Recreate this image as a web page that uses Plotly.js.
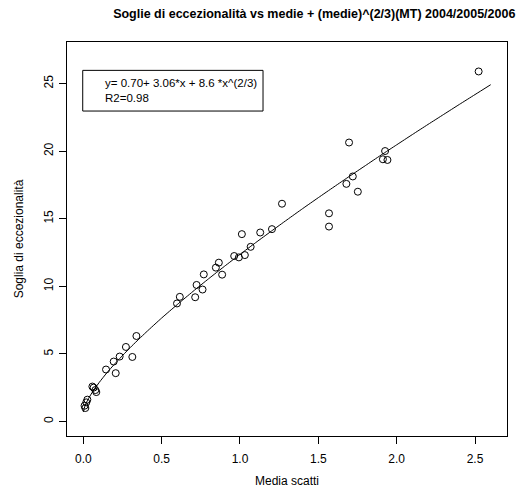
<!DOCTYPE html>
<html>
<head>
<meta charset="utf-8">
<script src="https://cdn.plot.ly/plotly-3.0.1.min.js"></script>
<style>
  html, body { margin: 0; padding: 0; background: #ffffff; }
  #chart { width: 519px; height: 500px; }
</style>
</head>
<body>
<div id="chart"></div>
<script>
// Observed points: mean (Media scatti) vs threshold (Soglia di eccezionalità)
const mediaScatti = [
  2.523, 1.696, 1.926, 1.912, 1.941, 1.720, 1.679, 1.752, 1.268, 1.568,
  1.568, 1.204, 1.129, 1.012, 1.068, 1.031, 0.993, 0.963, 0.865, 0.846,
  0.886, 0.769, 0.723, 0.761, 0.714, 0.616, 0.598, 0.339, 0.272, 0.232,
  0.313, 0.194, 0.145, 0.207, 0.058, 0.066, 0.077, 0.083, 0.026, 0.019,
  0.008, 0.013
];
const soglia = [
  25.90, 20.64, 20.01, 19.40, 19.35, 18.13, 17.58, 17.00, 16.11, 15.40,
  14.42, 14.23, 13.98, 13.86, 12.92, 12.31, 12.14, 12.24, 11.75, 11.38,
  10.86, 10.88, 10.10, 9.76, 9.19, 9.22, 8.73, 6.32, 5.51, 4.80,
  4.77, 4.43, 3.84, 3.57, 2.58, 2.50, 2.32, 2.17, 1.61, 1.41,
  1.16, 0.99
];

// Fitted curve
const curveX = [0, 0.01, 0.02, 0.05, 0.1, 0.15, 0.2, 0.3, 0.4, 0.5, 0.6, 0.7, 0.8, 0.9,
  1.0, 1.1, 1.2, 1.3, 1.4, 1.5, 1.6, 1.7, 1.8, 1.9, 2.0, 2.1, 2.2, 2.3, 2.4, 2.5, 2.6];
const curveY = [0.70, 1.13, 1.40, 2.02, 2.86, 3.59, 4.25, 5.47, 6.59, 7.65, 8.65, 9.62, 10.56, 11.47,
  12.36, 13.23, 14.08, 14.92, 15.75, 16.56, 17.36, 18.15, 18.93, 19.71, 20.47, 21.23, 21.98, 22.72, 23.46, 24.19, 24.92];

const xTickVals = [0, 0.5, 1, 1.5, 2, 2.5];
const xTickText = ["0.0", "0.5", "1.0", "1.5", "2.0", "2.5"];
const yTickVals = [0, 5, 10, 15, 20, 25];
const yTickText = ["0", "5", "10", "15", "20", "25"];

const titleText = "Soglie di eccezionalità vs medie + (medie)^(2/3)(MT) 2004/2005/2006";
const xTitle = "Media scatti";
const yTitle = "Soglia di eccezionalità";
const legendLines = ["y= 0.70+ 3.06*x + 8.6 *x^(2/3)", "R2=0.98"];

const FONT = "Liberation Sans, Arial, Helvetica, sans-serif";

const traces = [
  {
    x: mediaScatti, y: soglia, type: "scatter", mode: "markers",
    marker: { symbol: "circle-open", size: 7, color: "#000000", line: { width: 1, color: "#000000" } },
    hoverinfo: "x+y", showlegend: false
  },
  {
    x: curveX, y: curveY, type: "scatter", mode: "lines",
    line: { color: "#000000", width: 1, shape: "spline", smoothing: 0.6 },
    hoverinfo: "skip", showlegend: false
  }
];

const axisCommon = {
  showgrid: false, zeroline: false,
  showline: true, mirror: true, linecolor: "#000000", linewidth: 1,
  ticks: "outside", ticklen: 7, tickcolor: "#000000", tickwidth: 1,
  tickfont: { family: FONT, size: 12, color: "#000000" },
  automargin: false
};

const layout = {
  width: 519, height: 500,
  paper_bgcolor: "#ffffff", plot_bgcolor: "#ffffff",
  margin: { l: 67, r: 12, t: 42, b: 64 },
  font: { family: FONT, color: "#000000" },
  title: {
    text: "<b>" + titleText + "</b>",
    font: { family: FONT, size: 12.5, color: "#000000" },
    x: 0.562, xref: "paper", xanchor: "center",
    y: 0.972, yref: "container", yanchor: "middle"
  },
  xaxis: Object.assign({}, axisCommon, {
    range: [-0.104, 2.704],
    tickvals: xTickVals, ticktext: xTickText,
    ticklabelstandoff: 5,
    title: { text: xTitle, font: { family: FONT, size: 12, color: "#000000" }, standoff: 11 }
  }),
  yaxis: Object.assign({}, axisCommon, {
    range: [-1.08, 28.08],
    tickvals: yTickVals, ticktext: yTickText,
    tickangle: -90,
    ticklabelstandoff: 1,
    title: { text: yTitle, font: { family: FONT, size: 12, color: "#000000" }, standoff: 16 }
  }),
  shapes: [
    { type: "rect", xref: "x", yref: "y", x0: -0.0036, x1: 1.147, y0: 22.97, y1: 25.98,
      line: { color: "#000000", width: 1 }, fillcolor: "rgba(0,0,0,0)" }
  ],
  annotations: [
    { xref: "x", yref: "y", x: 0.125, y: 25.05, xanchor: "left", yanchor: "middle",
      text: legendLines[0], showarrow: false, font: { family: FONT, size: 11.5, color: "#000000" } },
    { xref: "x", yref: "y", x: 0.125, y: 23.9, xanchor: "left", yanchor: "middle",
      text: legendLines[1], showarrow: false, font: { family: FONT, size: 11.5, color: "#000000" } }
  ]
};

Plotly.newPlot("chart", traces, layout, { displayModeBar: false, staticPlot: true });
</script>
</body>
</html>
